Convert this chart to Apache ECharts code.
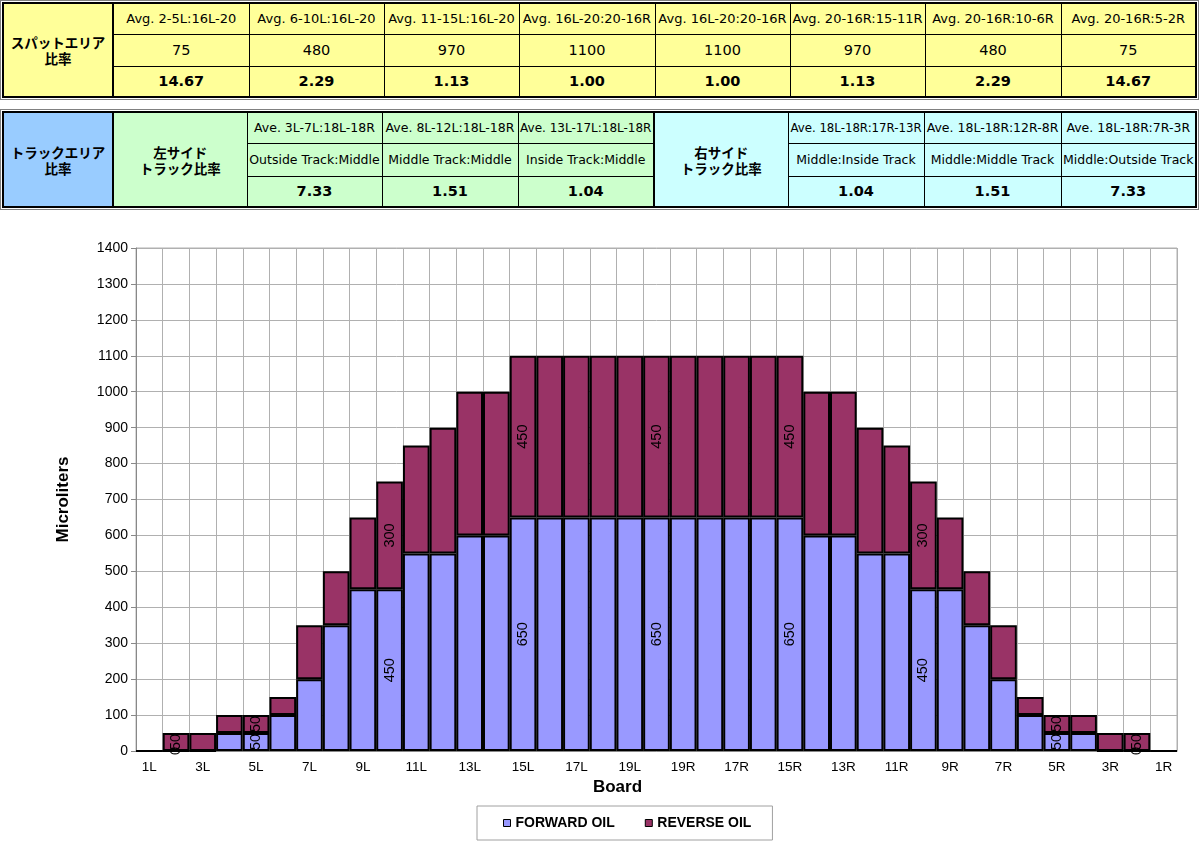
<!DOCTYPE html>
<html>
<head>
<meta charset="utf-8">
<script src="https://cdn.jsdelivr.net/npm/echarts@6/dist/echarts.min.js"></script>
<style>
body{margin:0;background:#fff;width:1200px;height:847px;overflow:hidden;position:relative;font-family:'DejaVu Sans',sans-serif;}
#mychart{position:absolute;left:0;top:0;width:1200px;height:847px;}
.frame{position:absolute;left:0;border:1px solid #808080;padding:1px;background:#fff;z-index:2;}
table{border-collapse:collapse;table-layout:fixed;border:2px solid #000;width:1194px;}
td{border:1px solid #000;text-align:center;vertical-align:middle;padding:0;white-space:nowrap;overflow:hidden;color:#000;}
td.sep{border-left:2px solid #000;}
.jp{font-family:'Noto Sans CJK JP',sans-serif;font-weight:bold;font-size:13.5px;line-height:16px;white-space:normal;}
.r1{font-size:13px;}
.r1s{font-size:12.5px;}
.r2{font-size:14.5px;}
.r3{font-size:14.5px;font-weight:bold;}
.yel{background:#FFFF99;}
.blu{background:#99CCFF;}
.grn{background:#CCFFCC;}
.cyn{background:#CCFFFF;}
</style>
</head>
<body>
<div id="mychart"></div>
<div class="frame" id="spot" style="top:0;"></div>
<div class="frame" id="track" style="top:109px;"></div>
<script>
// 表のデータ
var spotHead = 'スパットエリア<br>比率';
var spotCols = ['Avg. 2-5L:16L-20', 'Avg. 6-10L:16L-20', 'Avg. 11-15L:16L-20', 'Avg. 16L-20:20-16R',
	'Avg. 16L-20:20-16R', 'Avg. 20-16R:15-11R', 'Avg. 20-16R:10-6R', 'Avg. 20-16R:5-2R'];
var spotAvg = [75, 480, 970, 1100, 1100, 970, 480, 75];
var spotRatio = ['14.67', '2.29', '1.13', '1.00', '1.00', '1.13', '2.29', '14.67'];

var trackHead = 'トラックエリア<br>比率';
var leftHead = '左サイド<br>トラック比率';
var rightHead = '右サイド<br>トラック比率';
var trackCols = ['Ave. 3L-7L:18L-18R', 'Ave. 8L-12L:18L-18R', 'Ave. 13L-17L:18L-18R',
	'Ave. 18L-18R:17R-13R', 'Ave. 18L-18R:12R-8R', 'Ave. 18L-18R:7R-3R'];
var trackNames = ['Outside Track:Middle', 'Middle Track:Middle', 'Inside Track:Middle',
	'Middle:Inside Track', 'Middle:Middle Track', 'Middle:Outside Track'];
var trackRatio = ['7.33', '1.51', '1.04', '1.04', '1.51', '7.33'];

// グラフのデータ
var boards = ['1L', '2L', '3L', '4L', '5L', '6L', '7L', '8L', '9L', '10L', '11L', '12L', '13L', '14L', '15L',
	'16L', '17L', '18L', '19L', '20', '19R', '18R', '17R', '16R', '15R', '14R', '13R', '12R', '11R', '10R',
	'9R', '8R', '7R', '6R', '5R', '4R', '3R', '2R', '1R'];
var forwardOil = [0, 0, 0, 50, 50, 100, 200, 350, 450, 450, 550, 550, 600, 600, 650,
	650, 650, 650, 650, 650, 650, 650, 650, 650, 650, 600, 600, 550, 550, 450,
	450, 350, 200, 100, 50, 50, 0, 0, 0];
var reverseOil = [0, 50, 50, 50, 50, 50, 150, 150, 200, 300, 300, 350, 400, 400, 450,
	450, 450, 450, 450, 450, 450, 450, 450, 450, 450, 400, 400, 350, 300, 300,
	200, 150, 150, 50, 50, 50, 50, 50, 0];
var labelBoards = ['2L', '5L', '10L', '15L', '20', '15R', '10R', '5R', '2R'];
var yTicks = {min: 0, max: 1400, step: 100};

function colgroup(ws) {
	return '<colgroup>' + ws.map(function(w) { return '<col style="width:' + w + 'px">'; }).join('') + '</colgroup>';
}
function cell(cls, txt, extra) {
	return '<td class="' + cls + '"' + (extra || '') + '><span>' + txt + '</span></td>';
}

// スパットエリア表
var h = '<table>' + colgroup([110, 136, 135, 135, 136, 135, 135, 136, 135]);
h += '<tr style="height:31px">' + cell('jp yel', spotHead, ' rowspan="3"');
spotCols.forEach(function(t, i) { h += cell('r1 yel fit' + (i == 0 ? ' sep' : ''), t); });
h += '</tr><tr style="height:32px">';
spotAvg.forEach(function(t, i) { h += cell('r2 yel' + (i == 0 ? ' sep' : ''), t); });
h += '</tr><tr style="height:31px">';
spotRatio.forEach(function(t, i) { h += cell('r3 yel' + (i == 0 ? ' sep' : ''), t); });
h += '</tr></table>';
document.getElementById('spot').innerHTML = h;

// トラックエリア表
var g = '<table>' + colgroup([110, 134, 135, 136, 136, 134, 136, 137, 135]);
g += '<tr style="height:31px">' + cell('jp blu', trackHead, ' rowspan="3"') + cell('jp grn sep', leftHead, ' rowspan="3"');
for (var i = 0; i < 3; i++) g += cell('r1s grn fit', trackCols[i]);
g += cell('jp cyn sep', rightHead, ' rowspan="3"');
for (var i = 3; i < 6; i++) g += cell('r1s cyn fit', trackCols[i]);
g += '</tr><tr style="height:33px">';
for (var i = 0; i < 6; i++) g += cell('r1s fit ' + (i < 3 ? 'grn' : 'cyn'), trackNames[i]);
g += '</tr><tr style="height:31px">';
for (var i = 0; i < 6; i++) g += cell('r3 ' + (i < 3 ? 'grn' : 'cyn'), trackRatio[i]);
g += '</tr></table>';
document.getElementById('track').innerHTML = g;

// 縮小して全体を表示
document.querySelectorAll('td.fit').forEach(function(td) {
	var sp = td.firstChild;
	var fs = parseFloat(getComputedStyle(td).fontSize);
	while (sp.offsetWidth > td.clientWidth - 3 && fs > 8) {
		fs -= 0.25;
		td.style.fontSize = fs + 'px';
	}
});

function makeData(vals) {
	return vals.map(function(v, i) {
		return {value: v, label: {show: labelBoards.indexOf(boards[i]) >= 0}};
	});
}

var myChart = echarts.init(document.getElementById('mychart'));
var axisFont = 'Arial';
var barLabel = {
	position: 'inside',
	rotate: 90,
	color: '#000',
	fontSize: 14.5,
	fontFamily: axisFont
};
option = {
	animation: false,
	grid: {
		left: 136,
		right: 23,
		top: 248,
		bottom: 96,
		show: true,
		borderColor: '#b0b0b0',
		borderWidth: 1
	},
	legend: {
		left: 477,
		top: 806,
		itemWidth: 7,
		itemHeight: 7,
		itemGap: 30,
		icon: 'rect',
		padding: [10, 21, 10, 26],
		borderColor: '#a0a0a0',
		borderWidth: 1,
		itemStyle: {borderWidth: 1, borderColor: '#000'},
		textStyle: {
			fontFamily: axisFont,
			fontWeight: 'bold',
			fontSize: 14,
			color: '#000'
		}
	},
	xAxis: [{
		type: 'category',
		data: boards,
		name: 'Board',
		nameLocation: 'middle',
		nameGap: 26,
		nameTextStyle: {
			fontFamily: axisFont,
			fontWeight: 'bold',
			fontSize: 17,
			color: '#000',
			padding: [0, 78, 0, 0]
		},
		axisLine: {lineStyle: {color: '#888', width: 1}},
		axisTick: {interval: 0, length: 5, lineStyle: {color: '#888'}},
		axisLabel: {
			interval: 1,
			margin: 9,
			color: '#000',
			fontSize: 13.5,
			fontFamily: axisFont
		},
		splitLine: {show: true, interval: 0, lineStyle: {color: '#b0b0b0', width: 1}}
	}],
	yAxis: [{
		type: 'value',
		min: yTicks.min,
		max: yTicks.max,
		interval: yTicks.step,
		name: 'Microliters',
		nameLocation: 'middle',
		nameGap: 64,
		nameTextStyle: {
			fontFamily: axisFont,
			fontWeight: 'bold',
			fontSize: 17,
			color: '#000'
		},
		axisLine: {show: true, lineStyle: {color: '#888', width: 1}},
		axisTick: {show: true, length: 5, lineStyle: {color: '#888'}},
		axisLabel: {
			margin: 8,
			color: '#000',
			fontSize: 14,
			fontFamily: axisFont,
			formatter: function(v) { return String(v); }
		},
		splitLine: {show: true, lineStyle: {color: '#b0b0b0', width: 1}}
	}],
	series: [{
		name: 'FORWARD OIL',
		type: 'bar',
		stack: 'oil',
		barCategoryGap: '0%',
		itemStyle: {color: '#9999FF', borderColor: '#000', borderWidth: 2},
		label: barLabel,
		data: makeData(forwardOil)
	}, {
		name: 'REVERSE OIL',
		type: 'bar',
		stack: 'oil',
		barCategoryGap: '0%',
		itemStyle: {color: '#993366', borderColor: '#000', borderWidth: 2},
		label: barLabel,
		data: makeData(reverseOil)
	}]
};
myChart.setOption(option);
</script>
</body>
</html>
